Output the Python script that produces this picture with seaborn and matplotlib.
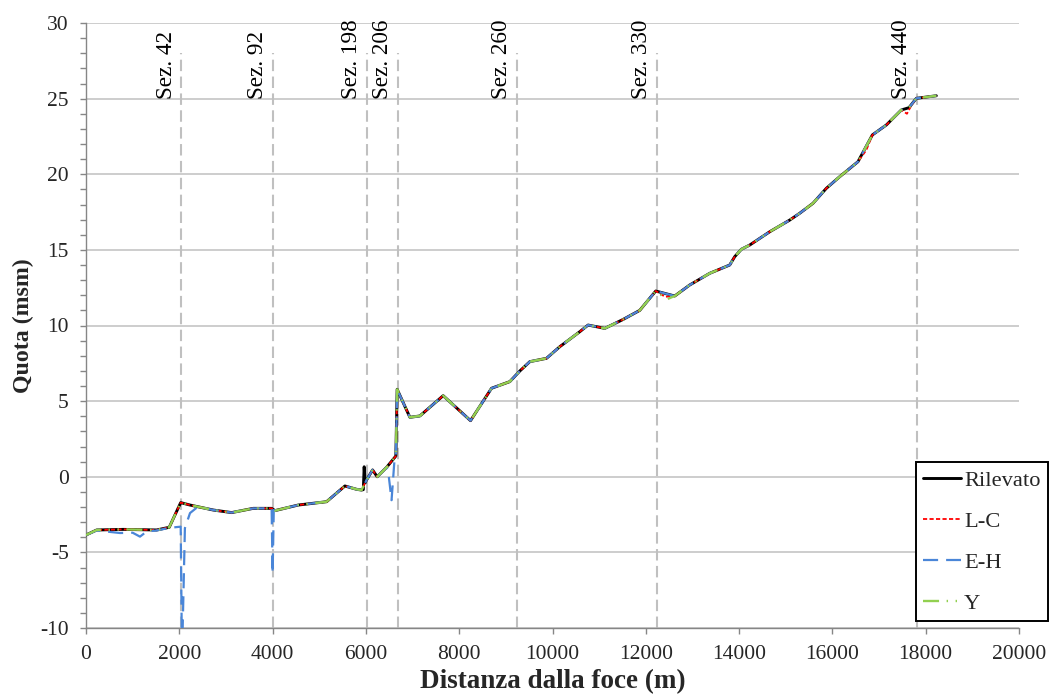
import matplotlib
matplotlib.use("Agg")
import matplotlib.pyplot as plt
from matplotlib.ticker import MultipleLocator
import seaborn as sns

# Longitudinal bed profile: surveyed thalweg and three model results
rilevato_x = [0, 229, 800, 1515, 1785, 2030, 2228, 2728, 3122, 3585, 3979, 4050,
              4550, 5157, 5550, 5800, 5907, 5945, 5963, 5985, 6015, 6143, 6242,
              6443, 6642, 6670, 6943, 7157, 7656, 8243, 8693, 9085, 9299, 9514,
              9871, 10157, 10585, 10763, 11121, 11513, 11870, 12213, 12620,
              12942, 13370, 13799, 13906, 14049, 14228, 14657, 15085, 15299,
              15584, 15870, 16157, 16548, 16857, 17157, 17478, 17641, 17799, 18228]
rilevato_y = [-3.85, -3.52, -3.48, -3.52, -3.34, -1.71, -1.87, -2.20, -2.37, -2.09,
              -2.09, -2.24, -1.87, -1.65, -0.61, -0.83, -0.88, -0.85, 0.66, -0.40,
              -0.21, 0.45, 0.00, 0.62, 1.37, 5.78, 3.93, 4.02, 5.36, 3.71, 5.85,
              6.29, 6.99, 7.61, 7.83, 8.60, 9.59, 10.03, 9.81, 10.40, 11.00, 12.28,
              11.95, 12.68, 13.45, 14.00, 14.55, 15.04, 15.32, 16.20, 16.97, 17.42,
              18.08, 19.07, 19.84, 20.83, 22.60, 23.26, 24.25, 24.40, 25.02, 25.19]

lc_x = [0, 229, 800, 1515, 1785, 2030, 2228, 2728, 3122, 3585, 3979, 4050,
        4550, 5157, 5550, 5800, 5907, 6015, 6143, 6242, 6443, 6642, 6670, 6943,
        7157, 7656, 8243, 8693, 9085, 9299, 9514, 9871, 10157, 10585, 10763,
        11121, 11513, 11870, 12213, 12414, 12620, 12942, 13370, 13799, 13906,
        14049, 14228, 14657, 15085, 15299, 15584, 15870, 16157, 16548, 16728,
        16857, 17157, 17478, 17598, 17700, 17799, 18228]
lc_y = [-3.85, -3.52, -3.48, -3.52, -3.34, -1.71, -1.87, -2.20, -2.37, -2.09,
        -2.09, -2.24, -1.87, -1.65, -0.61, -0.83, -0.88, -0.21, 0.45, 0.00, 0.62,
        1.37, 5.78, 3.93, 4.02, 5.36, 3.71, 5.85, 6.29, 6.99, 7.61, 7.83, 8.60,
        9.59, 10.03, 9.81, 10.40, 11.00, 12.28, 11.90, 11.95, 12.68, 13.45, 14.00,
        14.55, 15.04, 15.32, 16.20, 16.97, 17.42, 18.08, 19.07, 19.84, 20.83,
        21.60, 22.60, 23.26, 24.25, 24.00, 24.60, 25.02, 25.19]

eh_x = [0, 229, 728, 1000, 1157, 1300, 1515, 1785, 2030, 2058, 2120, 2230, 2400,
        2728, 3122, 3585, 3979, 4000, 4025, 4050, 4550, 5157, 5550, 5800, 5907,
        6015, 6143, 6242, 6443, 6480, 6550, 6610, 6642, 6670, 6943, 7157, 7656,
        8243, 8693, 9085, 9299, 9514, 9871, 10157, 10585, 10763, 11121, 11513,
        11870, 12213, 12620, 12942, 13370, 13799, 13906, 14049, 14228, 14657,
        15085, 15299, 15584, 15870, 16157, 16548, 16857, 17157, 17478, 17641,
        17799, 18228]
eh_y = [-3.85, -3.55, -3.72, -3.70, -3.96, -3.62, -3.55, -3.38, -3.30, -12.00,
        -3.40, -2.40, -1.98, -2.20, -2.37, -2.09, -2.09, -6.40, -2.20, -2.24,
        -1.87, -1.65, -0.61, -0.83, -0.88, -0.21, 0.45, 0.00, 0.62, 0.30, -1.55,
        1.00, 1.37, 5.78, 3.93, 4.02, 5.36, 3.71, 5.85, 6.29, 6.99, 7.61, 7.83,
        8.60, 9.59, 10.03, 9.81, 10.40, 11.00, 12.28, 11.95, 12.68, 13.45, 14.00,
        14.55, 15.04, 15.32, 16.20, 16.97, 17.42, 18.08, 19.07, 19.84, 20.83,
        22.60, 23.26, 24.25, 24.40, 25.02, 25.19]

y_x = [0, 229, 800, 1515, 1785, 2030, 2228, 2728, 3122, 3585, 3979, 4050,
       4550, 5157, 5550, 5800, 5907, 6015, 6143, 6242, 6443, 6642, 6670, 6943,
       7157, 7656, 8243, 8693, 9085, 9299, 9514, 9871, 10157, 10585, 10763,
       11121, 11513, 11870, 12213, 12450, 12620, 12942, 13370, 13799, 13906,
       14049, 14228, 14657, 15085, 15299, 15584, 15870, 16157, 16548, 16857,
       17157, 17478, 17641, 17799, 18228]
y_y = [-3.85, -3.52, -3.48, -3.52, -3.34, -1.71, -1.87, -2.20, -2.37, -2.09,
       -2.09, -2.24, -1.87, -1.65, -0.61, -0.83, -0.88, -0.21, 0.45, 0.00, 0.62,
       1.37, 5.78, 3.93, 4.02, 5.36, 3.71, 5.85, 6.29, 6.99, 7.61, 7.83, 8.60,
       9.59, 10.03, 9.81, 10.40, 11.00, 12.28, 11.73, 11.95, 12.68, 13.45, 14.00,
       14.55, 15.04, 15.32, 16.20, 16.97, 17.42, 18.08, 19.07, 19.84, 20.83,
       22.60, 23.26, 24.25, 24.40, 25.02, 25.19]

# Cross-section markers
section_labels = ["Sez. 42", "Sez. 92", "Sez. 198", "Sez. 206", "Sez. 260", "Sez. 330", "Sez. 440"]
section_x = [2045, 4010, 6015, 6679, 9235, 12235, 17816]

x_ticks = [0, 2000, 4000, 6000, 8000, 10000, 12000, 14000, 16000, 18000, 20000]
y_ticks = [-10, -5, 0, 5, 10, 15, 20, 25, 30]

sns.set_style("white")
plt.rcParams["font.family"] = ["Liberation Serif", "DejaVu Serif"]
plt.rcParams["axes.unicode_minus"] = False

W, H = 1052, 695
fig = plt.figure(figsize=(W / 100, H / 100), dpi=100)
ax = fig.add_axes([86 / W, 1 - 628 / H, (1019 - 86) / W, (628 - 23) / H])

grid_color = "#C0C0C0"
axis_color = "#868686"
fs = 15.5

ax.set_xlim(0, 20000)
ax.set_ylim(-10, 30)
ax.set_xticks(x_ticks)
ax.set_yticks(y_ticks)
ax.yaxis.set_minor_locator(MultipleLocator(1))
ax.yaxis.grid(True, which="major", color=grid_color, linewidth=1.1)
ax.xaxis.grid(False)
ax.set_axisbelow(True)

for side in ["top", "right"]:
    ax.spines[side].set_visible(False)
for side in ["left", "bottom"]:
    ax.spines[side].set_color(axis_color)
    ax.spines[side].set_linewidth(1.0)

ax.tick_params(axis="y", which="both", direction="out", length=4.5, width=1.0,
               color=axis_color, left=True, labelsize=fs, pad=8)
ax.tick_params(axis="x", which="major", direction="out", length=4, width=1.0,
               color=axis_color, bottom=True, labelsize=fs, pad=8)

# Vertical section lines with their labels
for lab, sx in zip(section_labels, section_x):
    ax.plot([sx, sx], [-10, 28], color=grid_color, linewidth=1.5,
            linestyle=(0, (5.5, 2.6)), zorder=1)
    ax.annotate(lab, xy=(sx, 25.0), xytext=(-3.5, 0), textcoords="offset points",
                rotation=90, ha="right", va="bottom", fontsize=16.7, color="black")

series = [
    ("Rilevato", rilevato_x, rilevato_y, dict(color="black", linewidth=2.1, linestyle="-")),
    ("L-C", lc_x, lc_y, dict(color="#FF0000", linewidth=1.3, linestyle=(0, (2.3, 1.3)))),
    ("E-H", eh_x, eh_y, dict(color="#4A86D8", linewidth=1.6, linestyle=(0, (6.8, 3.6)))),
    ("Y", y_x, y_y, dict(color="#92D050", linewidth=1.7,
                         linestyle=(0, (6.8, 3.2, 0.6, 3.2, 0.6, 3.2)))),
]
for i, (name, xs, ys, style) in enumerate(series):
    sns.lineplot(x=xs, y=ys, ax=ax, label=name, estimator=None, sort=False,
                 zorder=3 + i, **style)

ax.set_xlabel("Distanza dalla foce (m)", fontsize=19.5, fontweight="bold", labelpad=4)
ax.set_ylabel("Quota (msm)", fontsize=17.2, fontweight="bold", labelpad=4)

handles, labels = ax.get_legend_handles_labels()
leg = ax.legend(handles, labels, loc="lower right",
                bbox_to_anchor=(1048 / W, 1 - 621 / H), bbox_transform=fig.transFigure,
                frameon=True, fancybox=False, edgecolor="black", framealpha=1,
                fontsize=16.2, handlelength=1.7, handletextpad=0.12,
                labelspacing=0.9, borderpad=0.33, borderaxespad=0)
leg.get_frame().set_linewidth(1.4)

fig.savefig("out.png", dpi=100)
